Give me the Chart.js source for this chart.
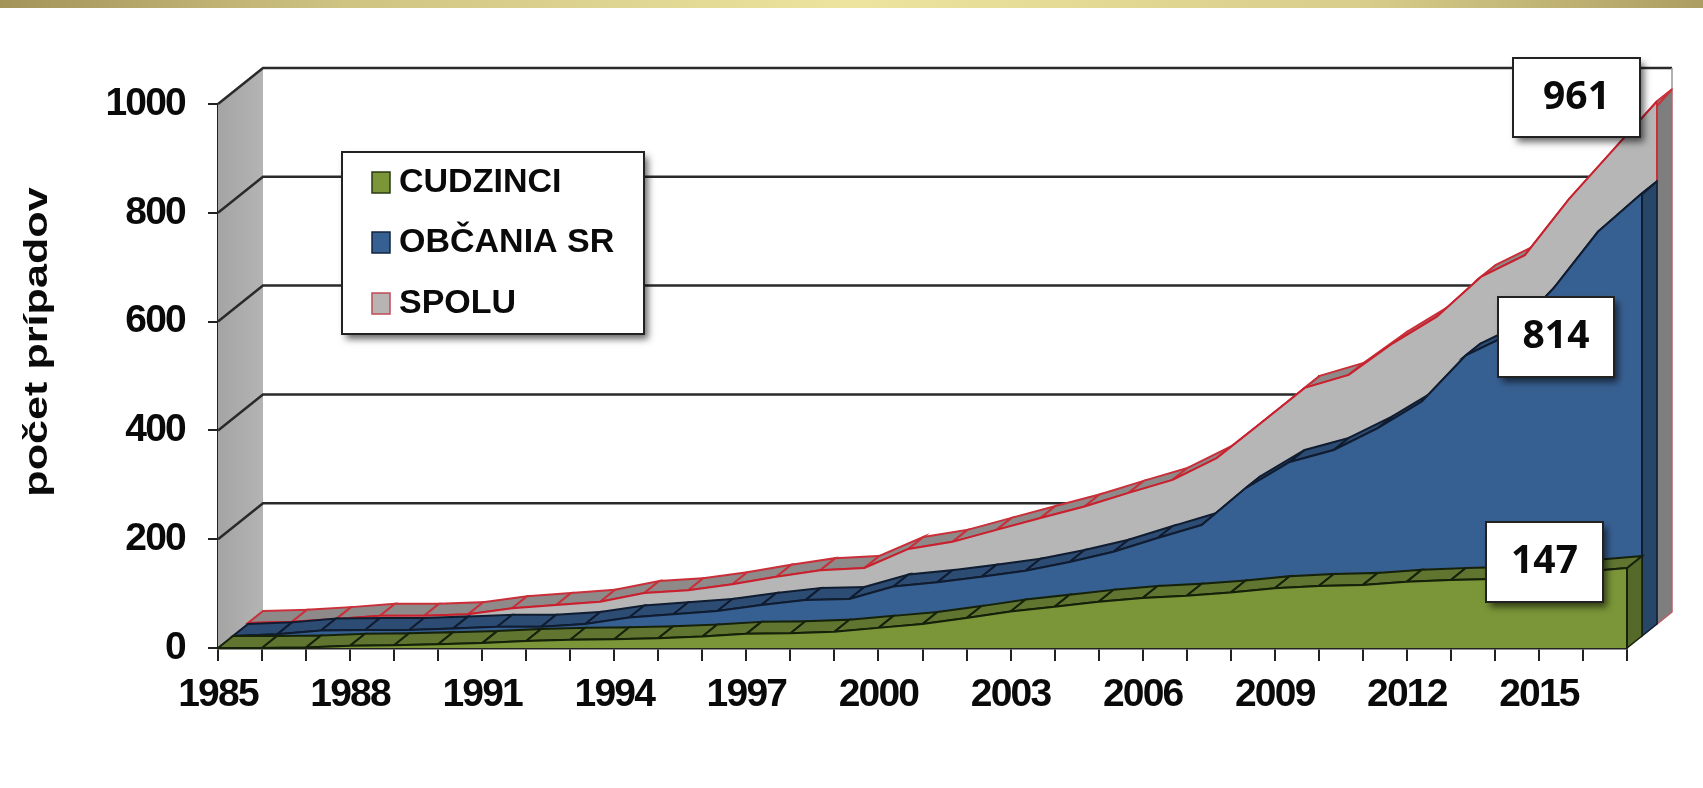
<!DOCTYPE html>
<html>
<head>
<meta charset="utf-8">
<style>html,body{margin:0;padding:0;background:#fff;overflow:hidden}canvas{display:block}</style>
<script src="https://cdn.jsdelivr.net/npm/chart.js@4"></script>
</head>
<body>
<canvas id="c" width="1703" height="788"></canvas>
<script>
const years = ['1985','1986','1987','1988','1989','1990','1991','1992','1993','1994','1995','1996','1997','1998','1999','2000','2001','2002','2003','2004','2005','2006','2007','2008','2009','2010','2011','2012','2013','2014','2015','2016','2017'];
const shownYears = ['1985','1988','1991','1994','1997','2000','2003','2006','2009','2012','2015'];
const cudzinci = [0,0,1,4,5,7,9,13,15,16,18,21,26,27,30,37,44,55,67,76,85,92,96,102,110,114,116,122,125,127,135,140,147];
const obcania  = [0,3,10,11,11,14,17,17,22,34,40,46,57,66,68,91,99,109,120,136,155,180,204,272,320,342,382,431,516,555,640,743,814];
const spolu    = [2,4,9,15,15,18,29,35,41,57,62,73,87,99,103,138,151,173,195,216,241,265,305,369,434,458,516,565,638,678,781,871,961];
const seriesNames = ['CUDZINCI','OBČANIA SR','SPOLU'];
const yTicks = [0,200,400,600,800,1000];

const STEP = {dx:15, dy:-12};
const DEPTH = {dx:45, dy:-36};
const look = [
  {front:'#7a9638', top:'#5f7530', side:'#55692b', edge:'#16210a', hatch:'#16210a'},
  {front:'#376092', top:'#2d4c74', side:'#284668', edge:'#101c30', hatch:'#101c30'},
  {front:'#b6b6b6', top:'#8e8a8a', side:'#7e7e7e', edge:'#c9202e', hatch:'#c9303a'}
];

const scene = {
  id:'scene',
  beforeDraw(chart){ chart.ctx.letterSpacing='-1.8px'; },
  beforeDatasetsDraw(chart){
    const {ctx, scales:{x,y}} = chart;
    ctx.letterSpacing='0px';
    const x0=x.getPixelForValue(0), x1=x.getPixelForValue(years.length-1), yb=y.getPixelForValue(0);
    const yt=y.getPixelForValue(1000);
    ctx.save();
    const g=ctx.createLinearGradient(x0,0,x0+DEPTH.dx,0);
    g.addColorStop(0,'#a4a4a4');g.addColorStop(1,'#b4b4b4');
    ctx.fillStyle=g;
    ctx.beginPath();ctx.moveTo(x0,yb);ctx.lineTo(x0+DEPTH.dx,yb+DEPTH.dy);ctx.lineTo(x0+DEPTH.dx,yt+DEPTH.dy);ctx.lineTo(x0,yt);ctx.closePath();ctx.fill();
    ctx.strokeStyle='#c9a0a0';ctx.lineWidth=1.5;
    ctx.beginPath();ctx.moveTo(x1,yb);ctx.lineTo(x1+DEPTH.dx,yb+DEPTH.dy);ctx.stroke();
    ctx.strokeStyle='#2a2a2a';ctx.lineWidth=2.5;
    yTicks.slice(1).forEach(v=>{
      const py=y.getPixelForValue(v);
      ctx.beginPath();ctx.moveTo(x0,py);ctx.lineTo(x0+DEPTH.dx,py+DEPTH.dy);ctx.lineTo(x1+DEPTH.dx,py+DEPTH.dy);ctx.stroke();
    });
    ctx.strokeStyle='#999';ctx.lineWidth=1.5;
    ctx.beginPath();ctx.moveTo(x1+DEPTH.dx,yt+DEPTH.dy);ctx.lineTo(x1+DEPTH.dx,y.getPixelForValue(961)+DEPTH.dy);ctx.stroke();
    ctx.restore();
  },
  beforeDatasetDraw(chart,args){
    const {ctx, scales:{x,y}} = chart;
    const k=args.index, c=look[k], vals=chart.data.datasets[k].data;
    const dx=STEP.dx*k, dy=STEP.dy*k, n=vals.length;
    const px=i=>x.getPixelForValue(i), py=i=>y.getPixelForValue(vals[i]), base=y.getPixelForValue(0);
    ctx.save();
    ctx.fillStyle=c.side;ctx.strokeStyle=k===2?'#b9616a':c.edge;ctx.lineWidth=1.5;
    const xe=px(n-1), ye=py(n-1);
    ctx.beginPath();
    ctx.moveTo(xe+dx,ye+dy);ctx.lineTo(xe+dx+STEP.dx,ye+dy+STEP.dy);
    ctx.lineTo(xe+dx+STEP.dx,base+dy+STEP.dy);ctx.lineTo(xe+dx,base+dy);ctx.closePath();
    ctx.fill();ctx.stroke();
    ctx.lineWidth=2;
    for(let i=0;i<n-1;i++){
      ctx.fillStyle=c.top;ctx.strokeStyle=c.hatch;
      ctx.beginPath();
      ctx.moveTo(px(i)+dx,py(i)+dy);
      ctx.lineTo(px(i+1)+dx,py(i+1)+dy);
      ctx.lineTo(px(i+1)+dx+STEP.dx,py(i+1)+dy+STEP.dy);
      ctx.lineTo(px(i)+dx+STEP.dx,py(i)+dy+STEP.dy);
      ctx.closePath();ctx.fill();ctx.stroke();
    }
    ctx.fillStyle=c.front;
    ctx.beginPath();ctx.moveTo(px(0)+dx,base+dy);
    for(let i=0;i<n;i++)ctx.lineTo(px(i)+dx,py(i)+dy);
    ctx.lineTo(px(n-1)+dx,base+dy);ctx.closePath();ctx.fill();
    ctx.strokeStyle=k===2?'#c9303a':c.edge;ctx.lineWidth=2;
    ctx.beginPath();ctx.moveTo(xe+dx,ye+dy);ctx.lineTo(xe+dx,base+dy);ctx.stroke();
    ctx.restore();
    ctx.save();ctx.translate(dx,dy);
  },
  afterDatasetDraw(chart){ chart.ctx.restore(); },
  afterDraw(chart){
    const {ctx} = chart;
    ctx.save();
    const b=ctx.createLinearGradient(0,0,chart.width,0);
    b.addColorStop(0,'#a3945a');b.addColorStop(.2,'#cfc382');b.addColorStop(.5,'#ece49f');b.addColorStop(.8,'#d8cd8a');b.addColorStop(1,'#ac9e62');
    ctx.fillStyle=b;ctx.fillRect(0,0,chart.width,8);

    const shadowBox=(l,t,w,h)=>{
      ctx.save();
      ctx.shadowColor='rgba(0,0,0,.6)';ctx.shadowBlur=7;ctx.shadowOffsetX=4;ctx.shadowOffsetY=5;
      ctx.fillStyle='#fff';ctx.fillRect(l,t,w,h);ctx.restore();
      ctx.strokeStyle='#222';ctx.lineWidth=2;ctx.strokeRect(l,t,w,h);
    };
    shadowBox(342,152,302,182);
    const sw=[{f:look[0].front,s:'#2a3a12'},{f:look[1].front,s:'#13233c'},{f:'#b9b4b4',s:'#c04a58'}];
    const ly=[182,242,303];
    ctx.textAlign='left';ctx.textBaseline='middle';ctx.font='bold 34px "Liberation Sans"';
    seriesNames.forEach((name,i)=>{
      ctx.fillStyle=sw[i].f;ctx.strokeStyle=sw[i].s;ctx.lineWidth=1.5;
      ctx.fillRect(372,ly[i]-10,18,21);ctx.strokeRect(372,ly[i]-10,18,21);
      ctx.fillStyle='#0a0a0a';ctx.fillText(name,399,ly[i]+1);
    });
    const boxes=[
      {l:1513,t:58,w:127,h:79,v:spolu[spolu.length-1]},
      {l:1498,t:297,w:116,h:80,v:obcania[obcania.length-1]},
      {l:1486,t:522,w:117,h:80,v:cudzinci[cudzinci.length-1]}
    ];
    boxes.forEach(o=>{
      shadowBox(o.l,o.t,o.w,o.h);
      ctx.fillStyle='#0a0a0a';ctx.font='bold 39px "Noto Sans"';ctx.textAlign='center';ctx.textBaseline='middle';
      ctx.fillText(String(o.v),o.l+o.w/2,o.t+o.h/2);
    });
    ctx.translate(38,342);ctx.rotate(-Math.PI/2);ctx.scale(1.27,1);
    ctx.fillStyle='#0a0a0a';ctx.font='bold 34px "Liberation Sans"';ctx.textAlign='center';ctx.textBaseline='middle';
    ctx.fillText('počet prípadov',0,0);
    ctx.restore();
  }
};

const mk=(label,data,i)=>({label,data,borderColor:look[i].edge,borderWidth:2,pointRadius:0,fill:false,tension:0,clip:false});

new Chart(document.getElementById('c'),{
  type:'line',
  data:{labels:years,datasets:[mk(seriesNames[0],cudzinci,0),mk(seriesNames[1],obcania,1),mk(seriesNames[2],spolu,2)]},
  options:{
    responsive:false,animation:false,
    layout:{padding:{top:104,right:76,left:0,bottom:0}},
    plugins:{legend:{display:false},tooltip:{enabled:false},title:{display:false}},
    scales:{
      x:{
        offset:false,
        afterFit(s){s.height=140;},
        grid:{drawOnChartArea:false,drawTicks:true,tickLength:13,color:'#222',lineWidth:2},
        border:{color:'#222',width:2.5},
        ticks:{autoSkip:false,maxRotation:0,minRotation:0,padding:11,color:'#0a0a0a',
          font:{family:'"Liberation Sans"',weight:'bold',size:39},
          callback(v){const t=this.getLabelForValue(v);return shownYears.includes(t)?t:'';}}
      },
      y:{
        min:0,max:1000,
        afterFit(s){s.width=218;},
        grid:{drawOnChartArea:false,drawTicks:true,tickLength:10,color:'#222',lineWidth:2},
        border:{color:'#222',width:2.5},
        ticks:{stepSize:200,padding:23,color:'#0a0a0a',
          font:{family:'"Liberation Sans"',weight:'bold',size:39},
          callback(v){return String(v);}}
      }
    }
  },
  plugins:[scene]
});
</script>
</body>
</html>
